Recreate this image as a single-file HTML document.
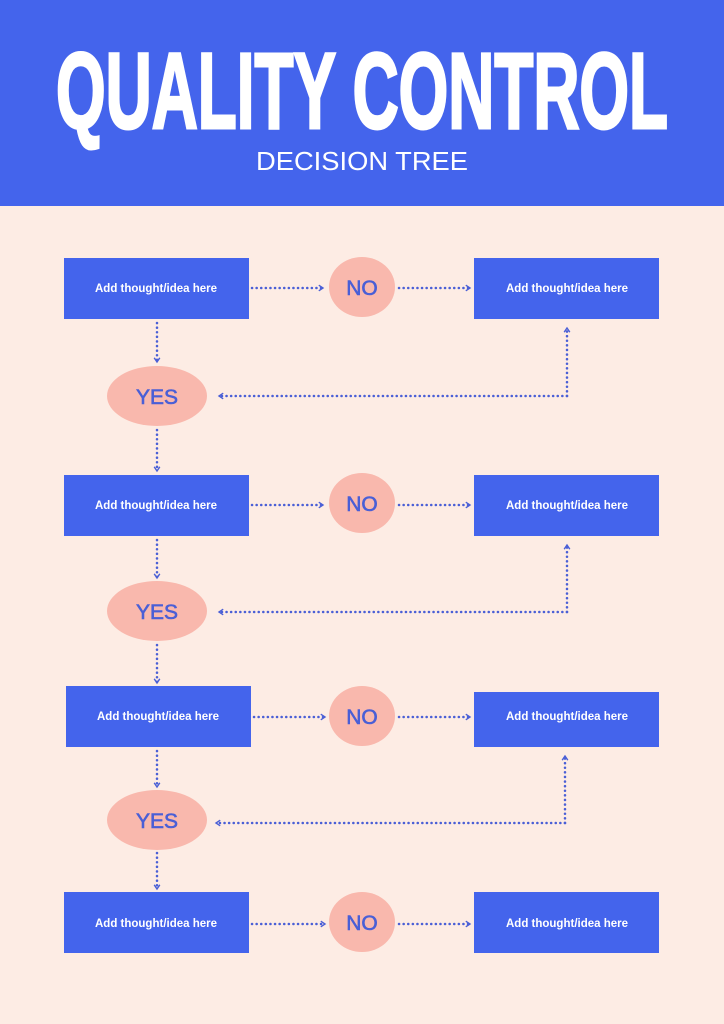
<!DOCTYPE html>
<html><head><style>
html,body{margin:0;padding:0;width:724px;height:1024px;background:#fdece4;overflow:hidden}
svg{display:block}
</style></head><body>
<svg width="724" height="1024" viewBox="0 0 724 1024" xmlns="http://www.w3.org/2000/svg">
<defs>
<marker id="ah" viewBox="0 0 10 10" refX="8" refY="5" markerWidth="7" markerHeight="7" orient="auto-start-reverse" markerUnits="userSpaceOnUse">
<path d="M2,1 L8,5 L2,9" fill="none" stroke="#4a5fd6" stroke-width="2"/>
</marker>
</defs>
<rect x="0" y="0" width="724" height="206" fill="#4464ec"/>
<text x="362" y="128" text-anchor="middle" fill="#fff" stroke="#fff" stroke-width="3" font-family="Liberation Sans, sans-serif" font-weight="bold" font-size="108" textLength="612" lengthAdjust="spacingAndGlyphs">QUALITY CONTROL</text>
<text x="362" y="170" text-anchor="middle" fill="#fff" font-family="Liberation Sans, sans-serif" font-size="26" textLength="212" lengthAdjust="spacingAndGlyphs">DECISION TREE</text>
<g font-family="Liberation Sans, sans-serif" stroke-linecap="round">
<g fill="none" stroke="#4a5fd6" stroke-width="2.5" stroke-dasharray="0.1 4.5">
<path d="M252 288 H323" marker-end="url(#ah)"/><path d="M399 288 H470" marker-end="url(#ah)"/>
<path d="M157 323 V362" marker-end="url(#ah)"/><path d="M567 396 V328" marker-end="url(#ah)"/><path d="M567 396 H219" marker-end="url(#ah)"/>
<path d="M157 430 V471" marker-end="url(#ah)"/>
<path d="M252 505 H323" marker-end="url(#ah)"/><path d="M399 505 H470" marker-end="url(#ah)"/>
<path d="M157 540 V578" marker-end="url(#ah)"/><path d="M567 612 V545" marker-end="url(#ah)"/><path d="M567 612 H219" marker-end="url(#ah)"/>
<path d="M157 645 V683" marker-end="url(#ah)"/>
<path d="M254 717 H325" marker-end="url(#ah)"/><path d="M399 717 H470" marker-end="url(#ah)"/>
<path d="M157 751 V787" marker-end="url(#ah)"/><path d="M565 823 V756" marker-end="url(#ah)"/><path d="M565 823 H216" marker-end="url(#ah)"/>
<path d="M157 853 V889" marker-end="url(#ah)"/>
<path d="M252 924 H325" marker-end="url(#ah)"/><path d="M399 924 H470" marker-end="url(#ah)"/>
</g>
<g fill="#4464ec">
<rect x="64" y="258" width="185" height="61"/><rect x="474" y="258" width="185" height="61"/>
<rect x="64" y="475" width="185" height="61"/><rect x="474" y="475" width="185" height="61"/>
<rect x="66" y="686" width="185" height="61"/><rect x="474" y="692" width="185" height="55"/>
<rect x="64" y="892" width="185" height="61"/><rect x="474" y="892" width="185" height="61"/>
</g>
<g fill="#f9b8ad">
<ellipse cx="362" cy="287" rx="33" ry="30"/><ellipse cx="362" cy="503" rx="33" ry="30"/>
<ellipse cx="362" cy="716" rx="33" ry="30"/><ellipse cx="362" cy="922" rx="33" ry="30"/>
<ellipse cx="157" cy="396" rx="50" ry="30"/><ellipse cx="157" cy="611" rx="50" ry="30"/><ellipse cx="157" cy="820" rx="50" ry="30"/>
</g>
<g fill="#fff" font-size="11.5" font-weight="bold" text-anchor="middle">
<text x="156" y="292">Add thought/idea here</text><text x="567" y="292">Add thought/idea here</text>
<text x="156" y="509">Add thought/idea here</text><text x="567" y="509">Add thought/idea here</text>
<text x="158" y="720">Add thought/idea here</text><text x="567" y="720">Add thought/idea here</text>
<text x="156" y="927">Add thought/idea here</text><text x="567" y="927">Add thought/idea here</text>
</g>
<g fill="#4a5fd6" stroke="#4a5fd6" stroke-width="0.6" font-size="21" text-anchor="middle">
<text x="362" y="295">NO</text><text x="362" y="511">NO</text><text x="362" y="724">NO</text><text x="362" y="930">NO</text>
<text x="157" y="404">YES</text><text x="157" y="619">YES</text><text x="157" y="828">YES</text>
</g>
</g>
</svg>
</body></html>
